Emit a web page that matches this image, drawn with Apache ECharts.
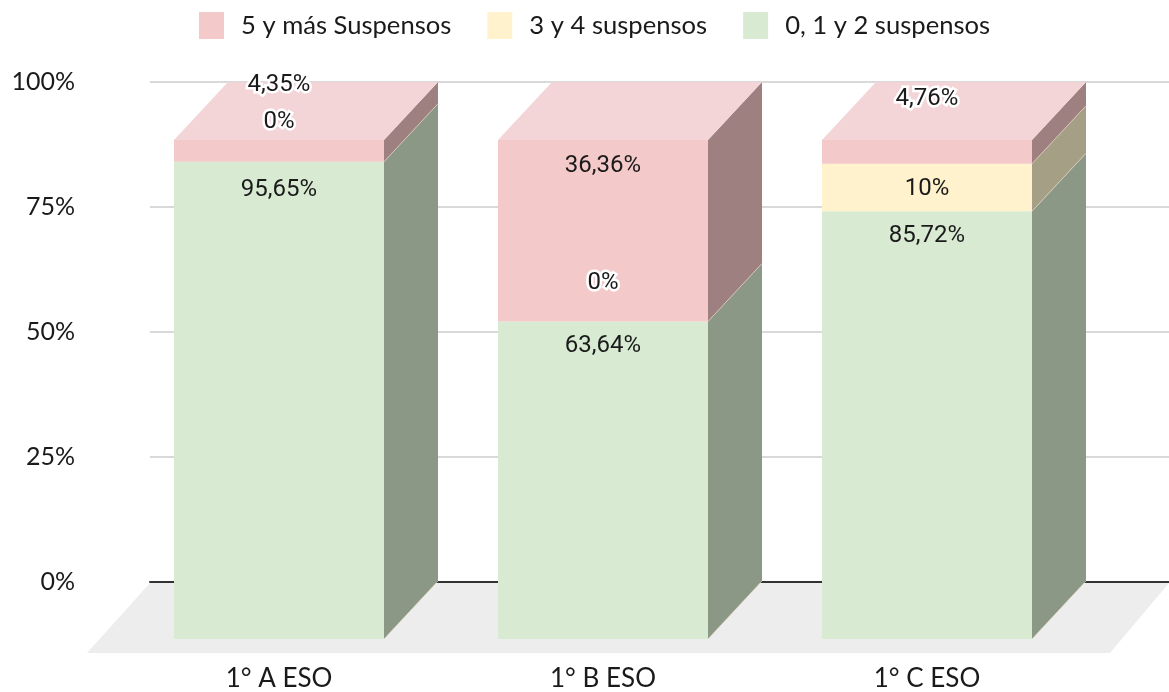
<!DOCTYPE html>
<html><head><meta charset="utf-8">
<style>html,body{margin:0;padding:0;background:#fff}#c{width:1169px;height:692px}</style>
<script src="https://cdn.jsdelivr.net/npm/echarts@6/dist/echarts.min.js"></script>
</head><body><div id="c"></div>
<script>
const categories = ['1° A ESO', '1° B ESO', '1° C ESO'];
const tickLabels = ['0%', '25%', '50%', '75%', '100%'];
const seriesNames = ['0, 1 y 2 suspensos', '3 y 4 suspensos', '5 y más Suspensos'];
const lowValues  = [95.65, 63.64, 85.72];
const midValues  = [0, 0, 9.52];
const highValues = [4.35, 36.36, 4.76];
const lowLabels  = ['95,65%', '63,64%', '85,72%'];
const midLabels  = ['0%', '0%', '10%'];
const highLabels = ['4,35%', '36,36%', '4,76%'];

// Style constants
const FRONT = ['#d9ead3', '#fff2cc', '#f4c9c9'];
const SIDE = ['#8b9885', '#a59f85', '#9f8081'];
const TOP = '#f4d5d7';
const DX = 54, DY = -58, BAR_RATIO = 210 / 324;
const labelShift = [[27, 24, 24], [-41, -39, 24], [-56, 25, -42]];
const HAND = '"Lato", sans-serif';

const allValues = [lowValues, midValues, highValues];
const allLabels = [lowLabels, midLabels, highLabels];

function makeSeries(s) {
  const data = categories.map((c, i) => {
    let start = 0;
    for (let k = 0; k < s; k++) start += allValues[k][i];
    return [i, start, start + allValues[s][i]];
  });
  return {
    type: 'custom', name: seriesNames[s], xAxisIndex: 1, yAxisIndex: 1,
    itemStyle: { color: FRONT[s] }, encode: { x: 0, y: [1, 2] }, clip: false,
    data,
    renderItem(params, api) {
      const i = api.value(0);
      const a = api.coord([i, api.value(1)]);
      const b = api.coord([i, api.value(2)]);
      const w = api.size([1, 0])[0] * BAR_RATIO;
      const l = a[0] - w / 2, r = a[0] + w / 2, y0 = a[1], y1 = b[1];
      const kids = [];
      if (y0 - y1 > 0.01) {
        kids.push({ type: 'polygon', shape: { points: [[r, y0], [r + DX, y0 + DY], [r + DX, y1 + DY], [r, y1]] }, style: { fill: SIDE[s] } });
        kids.push({ type: 'rect', shape: { x: l, y: y1, width: w, height: y0 - y1 }, style: { fill: FRONT[s] } });
        kids.push({ type: 'line', shape: { x1: r, y1: y0, x2: r + DX, y2: y0 + DY }, style: { stroke: 'rgba(240,225,200,0.55)', lineWidth: 1 }, z2: 2 });
      }
      if (s === 2) {
        kids.push({ type: 'polygon', shape: { points: [[l, y1], [r, y1], [r + DX, y1 + DY], [l + DX, y1 + DY]] }, style: { fill: TOP } });
      }
      const shift = labelShift[s][i];
      kids.push({
        type: 'text', z2: 50,
        style: {
          x: a[0], y: y1 + shift + 1, text: allLabels[s][i], align: 'center', verticalAlign: 'middle',
          font: '24px Roboto', fill: '#1a1a1a',
          stroke: shift < 0 ? '#fff' : null, lineWidth: shift < 0 ? 5 : 0
        }
      });
      return { type: 'group', children: kids };
    }
  };
}

const chart = echarts.init(document.getElementById('c'), null, { renderer: 'canvas' });
chart.setOption({
  animation: false,
  backgroundColor: '#fff',
  graphic: [{
    type: 'polygon', z: -1, silent: true,
    shape: { points: [[150, 583], [1169, 583], [1110, 653], [87, 653]] },
    style: { fill: '#ededed' }
  }],
  legend: {
    left: 199, top: 12, padding: 0, itemWidth: 25, itemHeight: 27, itemGap: 36,
    icon: 'rect',
    data: [seriesNames[2], seriesNames[1], seriesNames[0]],
    textStyle: { fontFamily: HAND, fontSize: 25.6, color: '#1a1a1a', padding: [0, 0, 0, 12] }
  },
  grid: [
    { left: 150, width: 1019, top: 82, height: 500 },
    { left: 117, width: 972, top: 140, height: 500 }
  ],
  xAxis: [
    { gridIndex: 0, type: 'category', data: categories, axisTick: { show: false }, axisLabel: { show: false },
      axisLine: { show: true, lineStyle: { color: '#333', width: 2 } } },
    { gridIndex: 1, type: 'category', data: categories, axisTick: { show: false }, axisLine: { show: false },
      axisLabel: { margin: 27, fontFamily: HAND, fontSize: 26, color: '#1a1a1a' } }
  ],
  yAxis: [
    { gridIndex: 0, type: 'value', min: 0, max: 100, interval: 25, axisLine: { show: false }, axisTick: { show: false },
      splitLine: { lineStyle: { color: '#cccccc', width: 1.5 } },
      axisLabel: { margin: 75, fontFamily: HAND, fontSize: 25, color: '#1a1a1a',
        formatter: v => tickLabels[v / 25] } },
    { gridIndex: 1, type: 'value', min: 0, max: 100, show: false, splitLine: { show: false } }
  ],
  series: [makeSeries(0), makeSeries(1), makeSeries(2)]
});
</script></body></html>
